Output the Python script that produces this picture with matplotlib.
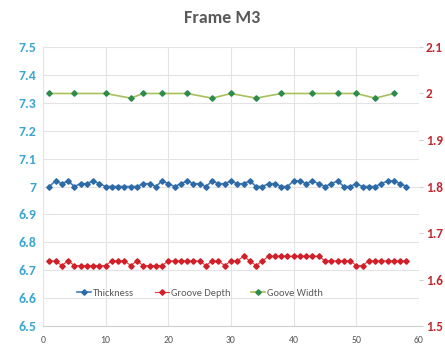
import matplotlib
matplotlib.use("Agg")
import matplotlib.pyplot as plt
from matplotlib.ticker import FuncFormatter, MultipleLocator

plt.rcParams['font.family'] = ['Carlito', 'Lato', 'DejaVu Sans']

x_thick = list(range(1, 59))
thickness = [7.00, 7.02, 7.01, 7.02, 7.00, 7.01, 7.01, 7.02, 7.01, 7.00,
             7.00, 7.00, 7.00, 7.00, 7.00, 7.01, 7.01, 7.00, 7.02, 7.01,
             7.00, 7.01, 7.02, 7.01, 7.01, 7.00, 7.02, 7.01, 7.01, 7.02,
             7.01, 7.01, 7.02, 7.00, 7.00, 7.01, 7.01, 7.00, 7.00, 7.02,
             7.02, 7.01, 7.02, 7.01, 7.00, 7.01, 7.02, 7.00, 7.00, 7.01,
             7.00, 7.00, 7.00, 7.01, 7.02, 7.02, 7.01, 7.00]

x_depth = list(range(1, 59))
groove_depth = [1.64, 1.64, 1.63, 1.64, 1.63, 1.63, 1.63, 1.63, 1.63, 1.63,
                1.64, 1.64, 1.64, 1.63, 1.64, 1.63, 1.63, 1.63, 1.63, 1.64,
                1.64, 1.64, 1.64, 1.64, 1.64, 1.63, 1.64, 1.64, 1.63, 1.64,
                1.64, 1.65, 1.64, 1.63, 1.64, 1.65, 1.65, 1.65, 1.65, 1.65,
                1.65, 1.65, 1.65, 1.65, 1.64, 1.64, 1.64, 1.64, 1.64, 1.63,
                1.63, 1.64, 1.64, 1.64, 1.64, 1.64, 1.64, 1.64]

x_width = [1, 5, 10, 14, 16, 19, 23, 27, 30, 34, 38, 43, 47, 50, 53, 56]
groove_width = [2.00, 2.00, 2.00, 1.99, 2.00, 2.00, 2.00, 1.99,
                2.00, 1.99, 2.00, 2.00, 2.00, 2.00, 1.99, 2.00]

title = "Frame M3"
labels = ["Thickness", "Groove Depth", "Goove Width"]

fig = plt.figure(figsize=(4.45, 3.51), dpi=100)
ax = fig.add_axes([43/445, 25/351, 376/445, 279/351])
ax2 = ax.twinx()

ax.set_xlim(0, 60)
ax.set_ylim(6.5, 7.5)
ax2.set_ylim(1.5, 2.1)
ax.xaxis.set_major_locator(MultipleLocator(10))
ax.yaxis.set_major_locator(MultipleLocator(0.1))
ax2.yaxis.set_major_locator(MultipleLocator(0.1))
fmt = FuncFormatter(lambda v, p: f"{v:.1f}".rstrip('0').rstrip('.'))
ax.yaxis.set_major_formatter(fmt)
ax2.yaxis.set_major_formatter(fmt)

ax.grid(True, color='#E3E3E3', linewidth=0.8)
ax.set_axisbelow(True)
for a in (ax, ax2):
    for s in ['top', 'left', 'right']:
        a.spines[s].set_visible(False)
    a.spines['bottom'].set_color('#D0D0D0')
ax2.spines['bottom'].set_visible(False)

ax.tick_params(axis='y', length=0, labelsize=10, labelcolor='#3AA6D0', pad=5)
ax.tick_params(axis='x', length=0, labelsize=7, labelcolor='#595959', pad=7)
ax2.tick_params(axis='y', length=3, color='#D0D0D0', labelsize=9.5,
                labelcolor='#C0282E', pad=2)
for lab in ax.get_yticklabels() + ax2.get_yticklabels():
    lab.set_fontweight('bold')

l1, = ax.plot(x_thick, thickness, color='#3E7CB8', linewidth=1.2,
              marker='D', markersize=2.8, markerfacecolor='#2E6AA6',
              markeredgecolor='#2E6AA6', label=labels[0])
l2, = ax2.plot(x_depth, groove_depth, color='#E03A3A', linewidth=0.8,
               marker='D', markersize=2.8, markerfacecolor='#D0202A',
               markeredgecolor='#D0202A', label=labels[1])
l3, = ax2.plot(x_width, groove_width, color='#A8C05A', linewidth=1.2,
               marker='D', markersize=2.8, markerfacecolor='#2E8B4E',
               markeredgecolor='#2E8B4E', label=labels[2])

leg = fig.legend(handles=[l1, l2, l3], loc='center', ncol=3,
                 bbox_to_anchor=(200/445, 1 - 293/351), frameon=False,
                 fontsize=7.5, handlelength=1.3, columnspacing=2.0,
                 handletextpad=0.2)
for t in leg.get_texts():
    t.set_color('#595959')

fig.text(222/445, 1 - 18/351, title, ha='center', va='center',
         fontsize=13, fontweight='bold', color='#595959')

fig.savefig('out.png', dpi=100)
